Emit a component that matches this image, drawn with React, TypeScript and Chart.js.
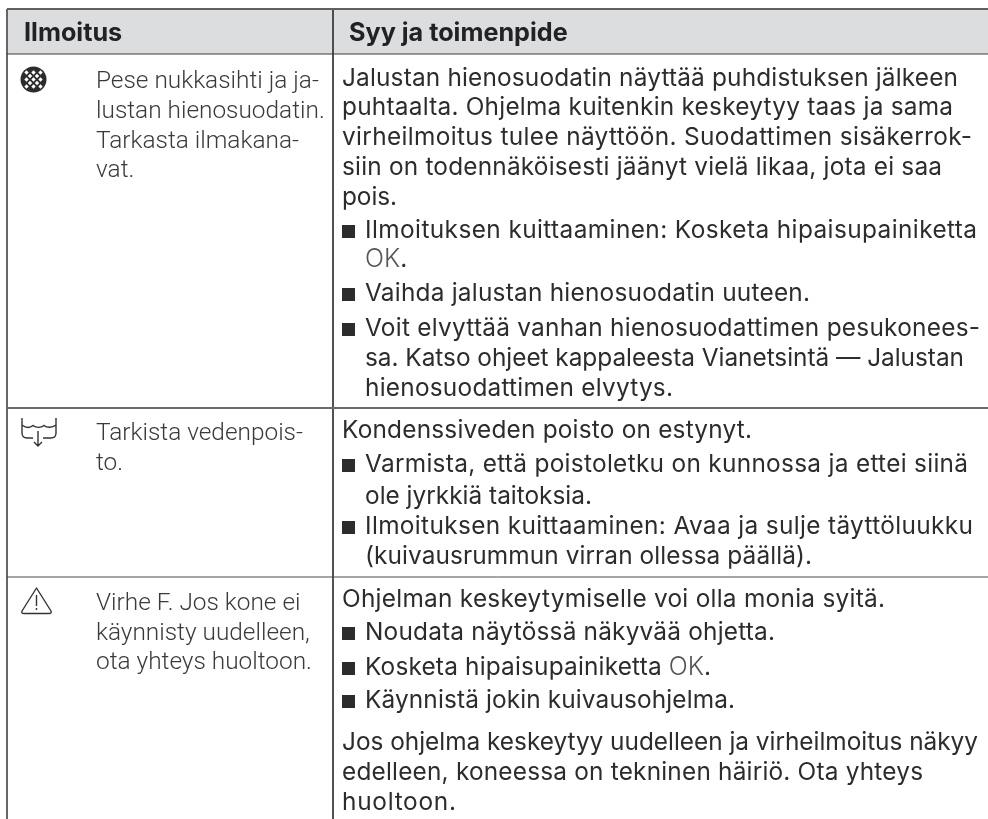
import React, { useEffect, useRef } from "react";
import { Chart, registerables } from "chart.js";

Chart.register(...registerables);

const headers = ["Ilmoitus", "Syy ja toimenpide"];

const messageLines = [
  ["Pese nukkasihti ja ja-", "lustan hienosuodatin.", "Tarkasta ilmakana-", "vat."],
  ["Tarkista vedenpois-", "to."],
  ["Virhe F. Jos kone ei", "käynnisty uudelleen,", "ota yhteys huoltoon."],
];

const causeLines = [
  "Jalustan hienosuodatin näyttää puhdistuksen jälkeen",
  "puhtaalta. Ohjelma kuitenkin keskeytyy taas ja sama",
  "virheilmoitus tulee näyttöön. Suodattimen sisäkerrok-",
  "siin on todennäköisesti jäänyt vielä likaa, jota ei saa",
  "pois.",
  "■ Ilmoituksen kuittaaminen: Kosketa hipaisupainiketta",
  "  OK.",
  "■ Vaihda jalustan hienosuodatin uuteen.",
  "■ Voit elvyttää vanhan hienosuodattimen pesukonees-",
  "  sa. Katso ohjeet kappaleesta Vianetsintä — Jalustan",
  "  hienosuodattimen elvytys.",
  "Kondenssiveden poisto on estynyt.",
  "■ Varmista, että poistoletku on kunnossa ja ettei siinä",
  "  ole jyrkkiä taitoksia.",
  "■ Ilmoituksen kuittaaminen: Avaa ja sulje täyttöluukku",
  "  (kuivausrummun virran ollessa päällä).",
  "Ohjelman keskeytymiselle voi olla monia syitä.",
  "■ Noudata näytössä näkyvää ohjetta.",
  "■ Kosketa hipaisupainiketta OK.",
  "■ Käynnistä jokin kuivausohjelma.",
  "Jos ohjelma keskeytyy uudelleen ja virheilmoitus näkyy",
  "edelleen, koneessa on tekninen häiriö. Ota yhteys",
  "huoltoon.",
];

const causeBaselines = [86, 115, 145, 175, 205, 238, 267, 301, 336, 366, 396, 438, 472, 504, 534, 564, 607, 640, 675, 708, 750, 780, 810];
const causeRightEdges = [958, 953, 972, 942, 397, 977, 403, 810, 980, 964, 673, 752, 968, 592, 973, 812, 885, 775, 711, 735, 978, 923, 456];
const messageBaselines = [[88, 118, 148, 177], [440, 470], [610, 640, 669]];
const ruleRows = [54, 408, 577];
const columnRule = 333;
const leftRule = 7;
const topRule = 9;

const INK = "#2c2c2e";
const CAUSE_FONT = '400 24.4px Inter, "Open Sans", sans-serif';
const MESSAGE_FONT = '300 24.4px Roboto, Lato, sans-serif';
const OK_FONT = '300 25px Inter, Roboto, sans-serif';
const HEAD_FONT = '700 25.2px Inter, "Open Sans", sans-serif';

const tablePlugin = {
  id: "tablePlugin",
  beforeDatasetsDraw(chart: any) {
    const { ctx, scales } = chart;
    const X = (v: number) => scales.x.getPixelForValue(v);
    const Y = (v: number) => scales.y.getPixelForValue(v);
    ctx.save();
    ctx.fillStyle = "#dcddde";
    ctx.fillRect(X(leftRule), Y(topRule), X(988) - X(leftRule), Y(ruleRows[0]) - Y(topRule));
    ctx.restore();
  },
  afterDatasetsDraw(chart: any) {
    const { ctx, scales } = chart;
    const X = (v: number) => scales.x.getPixelForValue(v);
    const Y = (v: number) => scales.y.getPixelForValue(v);
    ctx.save();
    ctx.textBaseline = "alphabetic";
    ctx.textAlign = "left";
    ctx.fillStyle = "#222224";
    ctx.font = HEAD_FONT;
    ctx.fillText(headers[0], X(24), Y(41));
    ctx.fillText(headers[1], X(349), Y(41));

    ctx.font = MESSAGE_FONT;
    ctx.fillStyle = "#3a3a3c";
    messageLines.forEach((group, g) =>
      group.forEach((line, i) => ctx.fillText(line, X(96), Y(messageBaselines[g][i])))
    );

    ctx.font = CAUSE_FONT;
    causeLines.forEach((raw, i) => {
      const bullet = raw.startsWith("■ ");
      const indented = raw.startsWith("  ");
      const text = bullet || indented ? raw.slice(2) : raw;
      const y = Y(causeBaselines[i]);
      if (bullet) {
        ctx.fillStyle = INK;
        ctx.fillRect(X(342), y - 13, 13, 13);
      }
      const x = X(bullet || indented ? 365 : 342);
      const okAt = text.lastIndexOf("OK");
      ctx.fillStyle = INK;
      ctx.letterSpacing = "0px";
      if (okAt >= 0) {
        const before = text.slice(0, okAt);
        const beforeWidth = ctx.measureText(before).width;
        ctx.font = OK_FONT;
        const okWidth = ctx.measureText("OK").width;
        ctx.font = CAUSE_FONT;
        const dotWidth = ctx.measureText(".").width;
        const spare = X(causeRightEdges[i]) - x - beforeWidth - okWidth - dotWidth;
        const spacing = before.length ? spare / before.length : 0;
        ctx.letterSpacing = `${spacing}px`;
        ctx.fillText(before, x, y);
        const w = ctx.measureText(before).width;
        ctx.letterSpacing = "0px";
        ctx.font = OK_FONT;
        ctx.fillStyle = "#555";
        ctx.fillText("OK", x + w, y);
        ctx.font = CAUSE_FONT;
        ctx.fillStyle = INK;
        ctx.fillText(".", x + w + okWidth, y);
      } else {
        const natural = ctx.measureText(text).width;
        const spacing = (X(causeRightEdges[i]) - x - natural) / Math.max(1, text.length - 1);
        ctx.letterSpacing = `${spacing}px`;
        ctx.fillText(text, x, y);
      }
    });
    ctx.letterSpacing = "0px";

    // Symbol 1: filter mesh
    const cx = X(33.5), cy = Y(79.5);
    ctx.save();
    ctx.beginPath();
    ctx.arc(cx, cy, 13, 0, Math.PI * 2);
    ctx.fillStyle = "#2c2c2e";
    ctx.fill();
    ctx.clip();
    ctx.fillStyle = "#fff";
    for (let r = -3; r <= 3; r++) {
      for (let c = -3; c <= 3; c++) {
        const dx = cx + ((r + c) * 7) / 2;
        const dy = cy + ((r - c) * 7) / 2;
        if (Math.hypot(dx - cx, dy - cy) > 11) continue;
        ctx.beginPath();
        ctx.moveTo(dx, dy - 2.2);
        ctx.lineTo(dx + 2.2, dy);
        ctx.lineTo(dx, dy + 2.2);
        ctx.lineTo(dx - 2.2, dy);
        ctx.closePath();
        ctx.fill();
      }
    }
    ctx.restore();

    // Symbol 2: drain tray
    ctx.strokeStyle = "#333";
    ctx.lineWidth = 1.4;
    ctx.beginPath();
    ctx.moveTo(X(22), Y(418));
    ctx.lineTo(X(22), Y(433));
    ctx.quadraticCurveTo(X(22), Y(438), X(27), Y(438));
    ctx.lineTo(X(33), Y(438));
    ctx.moveTo(X(43), Y(438));
    ctx.lineTo(X(51), Y(438));
    ctx.quadraticCurveTo(X(56), Y(438), X(56), Y(433));
    ctx.lineTo(X(56), Y(418));
    ctx.moveTo(X(22), Y(425));
    ctx.bezierCurveTo(X(26), Y(428), X(30), Y(428), X(33), Y(425.5));
    ctx.bezierCurveTo(X(36), Y(428), X(41), Y(428), X(44), Y(425.5));
    ctx.bezierCurveTo(X(47), Y(428), X(52), Y(428), X(56), Y(425));
    ctx.moveTo(X(38), Y(431));
    ctx.lineTo(X(38), Y(446));
    ctx.moveTo(X(34), Y(442));
    ctx.lineTo(X(38), Y(446));
    ctx.lineTo(X(42), Y(442));
    ctx.stroke();

    // Symbol 3: warning triangle
    ctx.lineJoin = "round";
    ctx.beginPath();
    ctx.moveTo(X(36.5), Y(588));
    ctx.lineTo(X(51), Y(611));
    ctx.quadraticCurveTo(X(52), Y(613.5), X(49), Y(613.5));
    ctx.lineTo(X(24), Y(613.5));
    ctx.quadraticCurveTo(X(21), Y(613.5), X(22), Y(611));
    ctx.closePath();
    ctx.moveTo(X(36.5), Y(595));
    ctx.lineTo(X(36.5), Y(606));
    ctx.moveTo(X(36.5), Y(608));
    ctx.lineTo(X(36.5), Y(610));
    ctx.stroke();
    ctx.restore();
  },
};

export default function App() {
  const ref = useRef<HTMLCanvasElement>(null);
  useEffect(() => {
    const hLine = (y: number, w: number, color: string) => ({
      data: [{ x: leftRule, y }, { x: 988, y }],
      borderColor: color,
      borderWidth: w,
      pointRadius: 0,
      showLine: true,
    });
    const vLine = (x: number, y0: number, w: number, color: string) => ({
      data: [{ x, y: y0 }, { x, y: 819 }],
      borderColor: color,
      borderWidth: w,
      pointRadius: 0,
      showLine: true,
    });
    const chart = new Chart(ref.current!, {
      type: "scatter",
      data: {
        datasets: [
          hLine(topRule, 2, "#5f6062"),
          hLine(ruleRows[0], 1, "#3a3a3c"),
          hLine(ruleRows[1], 2, "#6b6b6d"),
          hLine(ruleRows[2], 1, "#4a4a4c"),
          vLine(leftRule, topRule, 2, "#666668"),
          vLine(columnRule, topRule, 1, "#3a3a3c"),
        ],
      },
      options: {
        animation: false,
        responsive: false,
        layout: { padding: 0 },
        plugins: { legend: { display: false }, tooltip: { enabled: false }, title: { display: false } },
        scales: {
          x: { type: "linear", min: 0, max: 988, display: false },
          y: { type: "linear", min: 0, max: 819, reverse: true, display: false },
        },
      },
      plugins: [tablePlugin],
    } as any);
    return () => chart.destroy();
  }, []);
  return (
    <canvas
      ref={ref}
      width={988}
      height={819}
      style={{ position: "fixed", left: 0, top: 0, width: 988, height: 819, display: "block" }}
    />
  );
}
